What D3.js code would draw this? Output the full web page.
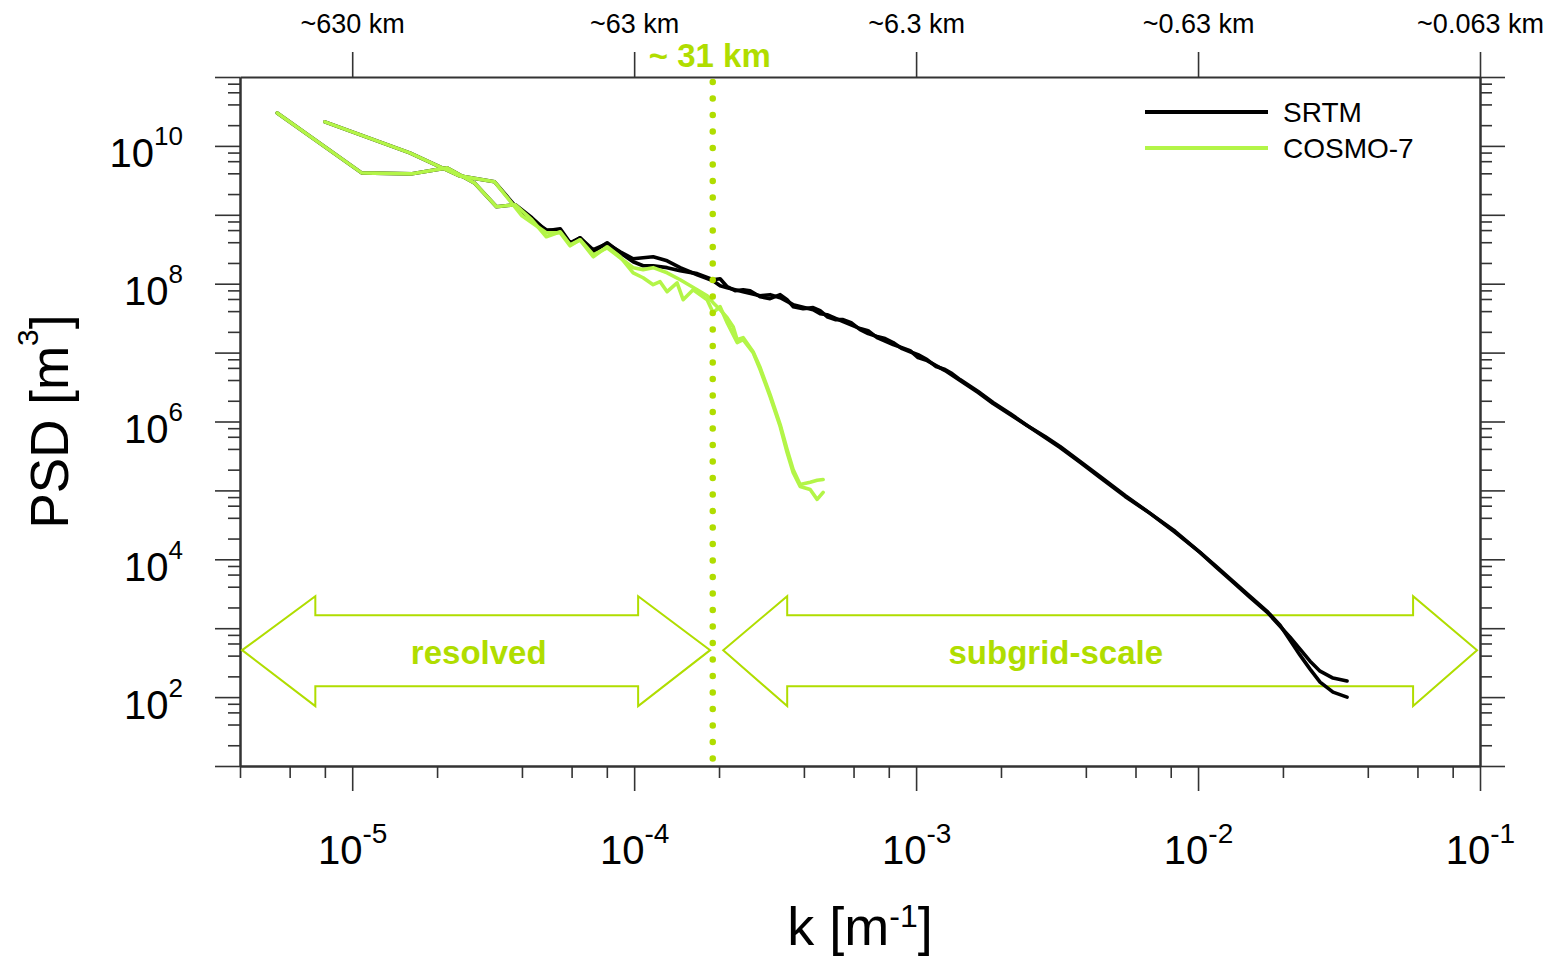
<!DOCTYPE html>
<html>
<head>
<meta charset="utf-8">
<script src="https://cdn.jsdelivr.net/npm/d3@7"></script>
<style>
  body { margin: 0; background: #fff; }
  svg { display: block; font-family: "Liberation Sans", Arial, Helvetica, sans-serif; }
</style>
</head>
<body>
<div id="viz-container"></div>
<script>
// spectra: [k in 1/m, PSD in m^3]
// two domains, each with SRTM and COSMO-7 orography
const srtmA = [
  [5.42e-6, 3.01e10], [1.08e-5, 4.06e9], [1.63e-5, 3.93e9], [2.17e-5, 4.80e9],
  [2.71e-5, 2.91e9], [3.25e-5, 1.31e9], [3.79e-5, 1.40e9], [4.34e-5, 9.05e8],
  [4.88e-5, 5.86e8], [5.47e-5, 6.27e8], [5.93e-5, 3.93e8], [6.43e-5, 4.64e8],
  [7.16e-5, 2.91e8], [8.02e-5, 3.93e8], [8.92e-5, 2.81e8], [9.92e-5, 2.08e8],
  [1.076e-4, 1.82e8], [1.168e-4, 1.82e8], [1.309e-4, 1.71e8], [1.456e-4, 1.54e8],
  [1.673e-4, 1.40e8], [1.906e-4, 1.14e8], [2.018e-4, 1.18e8], [2.137e-4, 9.05e7],
  [2.281e-4, 7.92e7], [2.435e-4, 8.18e7], [2.578e-4, 7.92e7], [2.798e-4, 6.48e7],
  [3.035e-4, 6.06e7], [3.295e-4, 6.93e7], [3.487e-4, 5.86e7], [3.663e-4, 4.64e7],
  [3.975e-4, 4.34e7], [4.313e-4, 4.49e7], [4.566e-4, 4.06e7], [4.834e-4, 3.32e7],
  [5.163e-4, 3.01e7], [5.51e-4, 3.01e7], [5.884e-4, 2.72e7], [6.33e-4, 2.15e7],
  [6.758e-4, 1.89e7], [7.27e-4, 1.71e7], [7.765e-4, 1.60e7], [8.29e-4, 1.40e7],
  [8.92e-4, 1.14e7], [9.52e-4, 1.03e7], [1.016e-3, 9.35e6], [1.094e-3, 7.92e6],
  [1.177e-3, 6.27e6], [1.267e-3, 5.67e6], [1.342e-3, 4.96e6], [1.432e-3, 4.06e6],
  [1.66e-3, 2.72e6], [1.875e-3, 1.89e6], [2.154e-3, 1.31e6], [2.475e-3, 8.75e5],
  [2.867e-3, 6.06e5], [3.24e-3, 4.34e5], [3.816e-3, 2.63e5], [4.493e-3, 1.60e5],
  [5.51e-3, 8.46e4], [6.76e-3, 4.64e4], [8.29e-3, 2.46e4], [1.016e-2, 1.26e4],
  [1.149e-2, 7.92e3], [1.331e-2, 4.64e3], [1.529e-2, 2.81e3], [1.757e-2, 1.71e3],
  [1.954e-2, 1.07e3], [2.12e-2, 7.41e2], [2.30e-2, 4.96e2], [2.496e-2, 3.32e2],
  [2.709e-2, 2.38e2], [3.011e-2, 1.89e2], [3.376e-2, 1.71e2]
];

const srtmB = [
  [8.0e-6, 2.23e10], [1.6e-5, 7.92e9], [2.4e-5, 3.67e9], [3.2e-5, 3.01e9],
  [4.0e-5, 1.03e9], [4.88e-5, 6.06e8], [5.47e-5, 5.86e8], [5.93e-5, 3.80e8],
  [6.43e-5, 4.64e8], [7.16e-5, 3.11e8], [8.02e-5, 3.80e8], [8.92e-5, 2.91e8],
  [9.92e-5, 2.30e8], [1.076e-4, 2.38e8], [1.168e-4, 2.46e8], [1.309e-4, 2.15e8],
  [1.456e-4, 1.71e8], [1.673e-4, 1.35e8], [1.906e-4, 1.105e8], [2.018e-4, 9.35e7],
  [2.137e-4, 8.75e7], [2.435e-4, 7.66e7], [2.798e-4, 6.70e7], [3.035e-4, 6.93e7],
  [3.295e-4, 6.27e7], [3.663e-4, 4.96e7], [4.313e-4, 4.20e7], [4.566e-4, 3.67e7],
  [4.834e-4, 3.55e7], [5.51e-4, 2.81e7], [6.33e-4, 2.23e7], [6.758e-4, 2.08e7],
  [7.27e-4, 1.65e7], [8.29e-4, 1.31e7], [9.52e-4, 1.07e7], [1.016e-3, 8.46e6],
  [1.094e-3, 7.66e6], [1.267e-3, 5.48e6], [1.432e-3, 3.93e6], [1.66e-3, 2.63e6],
  [1.875e-3, 1.82e6], [2.154e-3, 1.26e6], [2.475e-3, 8.75e5], [2.867e-3, 5.86e5],
  [3.24e-3, 4.20e5], [3.816e-3, 2.55e5], [4.493e-3, 1.54e5], [5.51e-3, 8.18e4],
  [6.76e-3, 4.64e4], [8.29e-3, 2.55e4], [1.016e-2, 1.26e4], [1.149e-2, 8.18e3],
  [1.331e-2, 4.80e3], [1.529e-2, 2.91e3], [1.757e-2, 1.76e3], [1.954e-2, 1.105e3],
  [2.12e-2, 6.70e2], [2.30e-2, 4.06e2], [2.496e-2, 2.55e2], [2.709e-2, 1.65e2],
  [3.011e-2, 1.18e2], [3.376e-2, 1.0e2]
];

const cosmoA = [
  [5.42e-6, 3.01e10], [1.08e-5, 4.06e9], [1.63e-5, 3.93e9], [2.17e-5, 4.80e9],
  [2.71e-5, 2.91e9], [3.25e-5, 1.31e9], [3.79e-5, 1.40e9], [4.34e-5, 8.46e8],
  [4.88e-5, 4.80e8], [5.47e-5, 5.67e8], [5.93e-5, 3.67e8], [6.43e-5, 4.34e8],
  [7.16e-5, 2.46e8], [8.02e-5, 3.44e8], [8.92e-5, 2.46e8], [9.92e-5, 1.44e8],
  [1.076e-4, 1.22e8], [1.168e-4, 9.67e7], [1.236e-4, 1.07e8], [1.309e-4, 7.66e7],
  [1.42e-4, 1.03e8], [1.492e-4, 5.86e7], [1.619e-4, 8.18e7], [1.815e-4, 5.86e7],
  [1.906e-4, 3.80e7], [2.018e-4, 4.64e7], [2.137e-4, 2.72e7], [2.319e-4, 1.40e7],
  [2.435e-4, 1.54e7], [2.642e-4, 1.0e7], [2.798e-4, 5.67e6], [3.035e-4, 2.30e6],
  [3.295e-4, 8.46e5], [3.487e-4, 3.55e5], [3.663e-4, 1.82e5], [3.879e-4, 1.14e5],
  [4.21e-4, 1.03e5], [4.457e-4, 7.41e4], [4.68e-4, 9.35e4]
];

const cosmoB = [
  [8.0e-6, 2.23e10], [1.6e-5, 7.92e9], [2.4e-5, 3.67e9], [3.2e-5, 3.01e9],
  [4.0e-5, 9.67e8], [4.88e-5, 5.48e8], [5.47e-5, 5.48e8], [5.93e-5, 3.55e8],
  [6.43e-5, 4.34e8], [7.16e-5, 2.63e8], [8.02e-5, 3.32e8], [8.92e-5, 2.38e8],
  [9.92e-5, 1.71e8], [1.076e-4, 1.60e8], [1.168e-4, 1.71e8], [1.309e-4, 1.44e8],
  [1.456e-4, 1.14e8], [1.673e-4, 8.18e7], [1.815e-4, 6.70e7], [1.906e-4, 5.30e7],
  [2.018e-4, 4.20e7], [2.137e-4, 3.21e7], [2.244e-4, 2.38e7], [2.319e-4, 1.54e7],
  [2.435e-4, 1.65e7], [2.642e-4, 1.03e7], [2.798e-4, 6.06e6], [3.035e-4, 2.46e6],
  [3.295e-4, 9.05e5], [3.487e-4, 3.93e5], [3.663e-4, 2.01e5], [3.879e-4, 1.22e5],
  [4.21e-4, 1.31e5], [4.457e-4, 1.40e5], [4.68e-4, 1.44e5]
];

// axes
const xMajor = [1e-5, 1e-4, 1e-3, 1e-2, 1e-1];
const xExponents = ["-5", "-4", "-3", "-2", "-1"];
const topLabels = ["~630 km", "~63 km", "~6.3 km", "~0.63 km", "~0.063 km"];
const yMajor = [1e1, 1e2, 1e3, 1e4, 1e5, 1e6, 1e7, 1e8, 1e9, 1e10, 1e11];
const yLabelled = [1e2, 1e4, 1e6, 1e8, 1e10];
const yExponents = ["2", "4", "6", "8", "10"];
const minorSteps = [2, 4, 6, 8];

const legendNames = ["SRTM", "COSMO-7"];

// cut-off of the COSMO-7 grid and the two range arrows
const kCut = 1.9e-4;
const cutLabel = "~ 31 km";
const rangeNames = ["resolved", "subgrid-scale"];
const rangeLabelK = [2.81e-5, 3.13e-3];
const rangeArrowK = [
  [4.07e-6, 7.4e-6, 1.033e-4, 1.86e-4],
  [2.07e-4, 3.49e-4, 5.79e-2, 9.76e-2]
];
const arrowPsd = { mid: 480, shaftTop: 1540, shaftBottom: 144, headTop: 2910, headBottom: 74 };

const black = "#000";
const lineGreen = "#b3f548";
const markGreen = "#b0dd00";
const frame = "#333";

let svg = d3.select("#viz-container")
  .append("svg")
    .attr("width", 1552)
    .attr("height", 956);

let x = d3.scaleLog().domain([4e-6, 0.1]).range([240, 1480]);
let y = d3.scaleLog().domain([10, 1e11]).range([766, 77]);

function minorValues(scale, fromExp, toExp){
  let out = [];
  for (let e = fromExp; e <= toExp; e++){
    minorSteps.forEach(s => out.push(s * Math.pow(10, e)));
  }
  let dom = scale.domain();
  return out.filter(v => v >= dom[0] * 0.999 && v <= dom[1] * 1.001);
}

function styleAxis(g){
  g.select(".domain").attr("stroke", frame).attr("stroke-width", 2);
  g.selectAll(".tick line").attr("stroke", frame).attr("stroke-width", 1.6);
  g.selectAll(".tick text").remove();
}

// bottom
let xb = svg.append("g").attr("transform", "translate(0,766)")
  .call(d3.axisBottom(x).tickValues(xMajor).tickSize(25).tickSizeOuter(0))
  .call(styleAxis);
svg.append("g").attr("transform", "translate(0,766)")
  .call(d3.axisBottom(x).tickValues(minorValues(x, -6, -2)).tickSize(12).tickSizeOuter(0))
  .call(styleAxis);

xb.selectAll(".tick").append("text")
    .attr("fill", "#000")
    .attr("text-anchor", "middle")
    .attr("y", 98)
    .attr("font-size", 40)
    .each(function(d, i){
      let t = d3.select(this);
      t.append("tspan").text("10");
      t.append("tspan").attr("dy", -21).attr("font-size", 28).text(xExponents[i]);
    });

// top
let xt = svg.append("g").attr("transform", "translate(0,77)")
  .call(d3.axisTop(x).tickValues(xMajor).tickSize(25).tickSizeOuter(0))
  .call(styleAxis);
xt.selectAll(".tick").append("text")
    .attr("fill", "#000")
    .attr("text-anchor", "middle")
    .attr("y", -44)
    .attr("font-size", 27)
    .text((d, i) => topLabels[i]);

// left
let yl = svg.append("g").attr("transform", "translate(240,0)")
  .call(d3.axisLeft(y).tickValues(yMajor).tickSize(25).tickSizeOuter(0))
  .call(styleAxis);
svg.append("g").attr("transform", "translate(240,0)")
  .call(d3.axisLeft(y).tickValues(minorValues(y, 1, 10)).tickSize(12).tickSizeOuter(0))
  .call(styleAxis);

yl.selectAll(".tick").filter(d => yLabelled.includes(d)).append("text")
    .attr("fill", "#000")
    .attr("text-anchor", "end")
    .attr("x", -57)
    .attr("y", 21)
    .attr("font-size", 40)
    .each(function(d){
      let t = d3.select(this);
      t.append("tspan").text("10");
      t.append("tspan").attr("dy", -22).attr("font-size", 26).text(yExponents[yLabelled.indexOf(d)]);
    });

// right
svg.append("g").attr("transform", "translate(1480,0)")
  .call(d3.axisRight(y).tickValues(yMajor).tickSize(25).tickSizeOuter(0))
  .call(styleAxis);
svg.append("g").attr("transform", "translate(1480,0)")
  .call(d3.axisRight(y).tickValues(minorValues(y, 1, 10)).tickSize(12).tickSizeOuter(0))
  .call(styleAxis);

// axis titles
let xTitle = svg.append("text")
    .attr("x", (x.range()[0] + x.range()[1]) / 2)
    .attr("y", 945)
    .attr("text-anchor", "middle")
    .attr("font-size", 54);
xTitle.append("tspan").text("k [m");
xTitle.append("tspan").attr("dy", -18).attr("font-size", 32).text("-1");
xTitle.append("tspan").attr("dy", 18).text("]");

let yTitle = svg.append("text")
    .attr("transform", `translate(68,${(y.range()[0] + y.range()[1]) / 2}) rotate(-90)`)
    .attr("text-anchor", "middle")
    .attr("font-size", 53);
yTitle.append("tspan").text("PSD [m");
yTitle.append("tspan").attr("dy", -30).attr("font-size", 30).text("3");
yTitle.append("tspan").attr("dy", 30).text("]");

// range arrows
function arrowPoints(k){
  let p = arrowPsd;
  return [
    [k[0], p.mid], [k[1], p.headTop], [k[1], p.shaftTop], [k[2], p.shaftTop],
    [k[2], p.headTop], [k[3], p.mid], [k[2], p.headBottom], [k[2], p.shaftBottom],
    [k[1], p.shaftBottom], [k[1], p.headBottom]
  ].map(d => [x(d[0]), y(d[1])].join(",")).join(" ");
}

svg.selectAll(".arrow").data(rangeArrowK).enter().append("polygon")
    .attr("class", "arrow")
    .attr("points", arrowPoints)
    .attr("fill", "none")
    .attr("stroke", markGreen)
    .attr("stroke-width", 2);

svg.selectAll(".range-label").data(rangeNames).enter().append("text")
    .attr("class", "range-label")
    .attr("x", (d, i) => x(rangeLabelK[i]))
    .attr("y", y(arrowPsd.mid))
    .attr("dy", "0.42em")
    .attr("text-anchor", "middle")
    .attr("font-size", 33)
    .attr("font-weight", "bold")
    .attr("fill", markGreen)
    .text(d => d);

// spectra
let line = d3.line().x(d => x(d[0])).y(d => y(d[1]));
let series = [
  { data: srtmA, color: black },
  { data: srtmB, color: black },
  { data: cosmoA, color: lineGreen },
  { data: cosmoB, color: lineGreen }
];

svg.selectAll(".spectrum").data(series).enter().append("path")
    .attr("class", "spectrum")
    .attr("d", d => line(d.data))
    .attr("fill", "none")
    .attr("stroke", d => d.color)
    .attr("stroke-width", 3.6)
    .attr("stroke-linejoin", "round")
    .attr("stroke-linecap", "round");

// grid-spacing cut-off
svg.append("line")
    .attr("x1", x(kCut)).attr("x2", x(kCut))
    .attr("y1", y(1e11) + 5).attr("y2", y(10))
    .attr("stroke", markGreen)
    .attr("stroke-width", 6.5)
    .attr("stroke-linecap", "round")
    .attr("stroke-dasharray", "0,16.5");

svg.append("text")
    .attr("x", x(kCut) - 3)
    .attr("y", 67)
    .attr("text-anchor", "middle")
    .attr("font-size", 33)
    .attr("font-weight", "bold")
    .attr("fill", markGreen)
    .text(cutLabel);

// legend
let legend = svg.selectAll(".legend").data(legendNames).enter().append("g")
    .attr("class", "legend")
    .attr("transform", (d, i) => `translate(1145,${112 + i * 36})`);
legend.append("line")
    .attr("x1", 0).attr("x2", 123)
    .attr("stroke", (d, i) => i == 0 ? black : lineGreen)
    .attr("stroke-width", 4);
legend.append("text")
    .attr("x", 138)
    .attr("dy", "0.36em")
    .attr("font-size", 28)
    .text(d => d);
</script>
</body>
</html>
